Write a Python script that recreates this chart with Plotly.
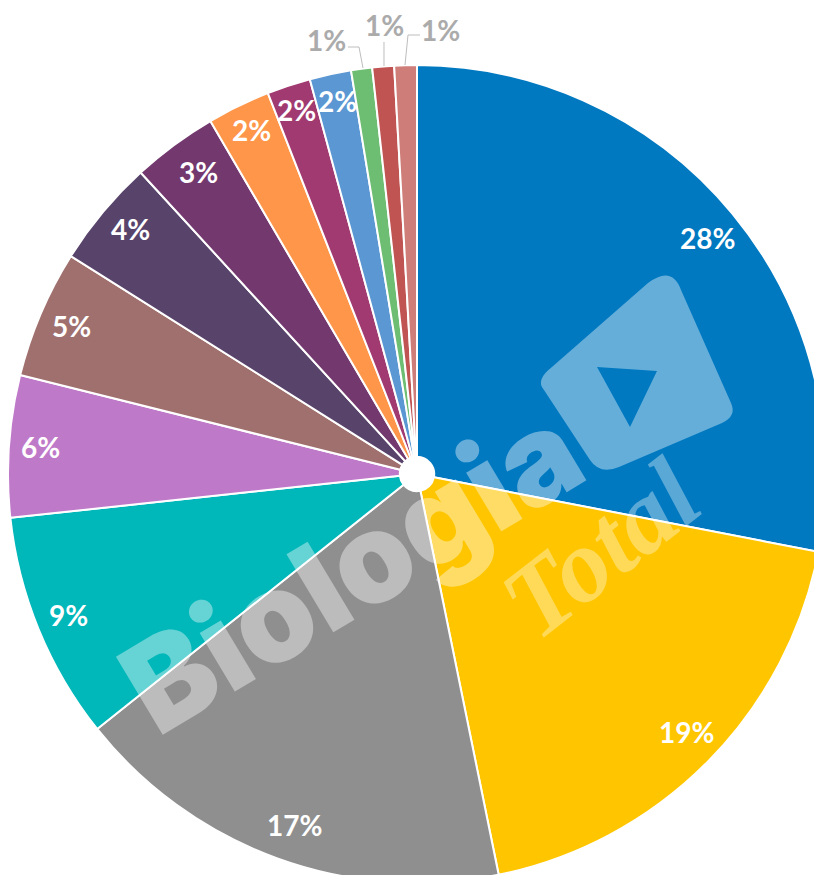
import math
import plotly.graph_objects as go

# Share of each category, clockwise from twelve o'clock
shares = [28.05, 18.75, 17.49, 9.0, 5.6, 5.05, 4.25, 3.38, 2.49, 1.72, 1.64, 0.83, 0.86, 0.89]
colors = ["#0079C1", "#FFC600", "#8F8F8F", "#00B7BA", "#BF79C9", "#A0706E", "#58436B",
          "#73396F", "#FF964A", "#A03A70", "#5B97D2", "#6DBD72", "#C05452", "#CE7D79"]
inner_label_radius = [375, 375, 375, 375, 378, 375, 377, 373, 382, 383, 382]
inner_label_nudge = [(1, 3), (3, -6), (6, -1), (-2, -2), (1, -1), (-1, -1), (3, -4), (3, -2), (1, 0), (0, 0), (1, 0)]
outer_label_pos = [(326, 40), (384, 25), (440, 30)]
leader_lines = [[(348, 47), (359, 47), (363, 68)],
                [(384, 42), (384, 66)],
                [(420, 35), (408, 35), (405, 65)]]

# Canvas slightly larger than the window so the pie runs off the right and bottom
W, H = 834, 948
CX, CY, R = 417, 474, 409
FONT = "Lato"


def px(x, y):
    return x / W, 1 - y / H


def path(points):
    out = []
    for cmd, *pts in points:
        coords = " ".join(f"{px(a, b)[0]:.5f},{px(a, b)[1]:.5f}" for a, b in pts)
        out.append(f"{cmd} {coords}")
    return " ".join(out)


fig = go.Figure(go.Pie(
    values=shares,
    sort=False,
    direction="clockwise",
    rotation=0,
    hole=0.042,
    textinfo="none",
    hoverinfo="percent",
    marker=dict(colors=colors, line=dict(color="white", width=2)),
    domain=dict(x=[(CX - R) / W, (CX + R) / W], y=[1 - (CY + R) / H, 1 - (CY - R) / H]),
    showlegend=False,
))

annotations = []
total = sum(shares)
running = 0.0
for i, s in enumerate(shares):
    mid = (running + s / 2) / total * 2 * math.pi
    running += s
    label = f"{round(s)}%"
    if i < len(inner_label_radius):
        r = inner_label_radius[i]
        dx, dy = inner_label_nudge[i]
        x, y = CX + r * math.sin(mid) + dx, CY - r * math.cos(mid) + dy
        color = "white"
    else:
        x, y = outer_label_pos[i - len(inner_label_radius)]
        color = "#ABABAB"
    xp, yp = px(x, y)
    annotations.append(dict(text=label, x=xp, y=yp, xref="paper", yref="paper",
                            showarrow=False, xanchor="center", yanchor="middle",
                            font=dict(family=FONT, size=28, color=color, weight=700)))

# Watermark wordmark
xp, yp = px(351, 568)
annotations.append(dict(text="Biologia", x=xp, y=yp, xref="paper", yref="paper", showarrow=False,
                        xanchor="center", yanchor="middle", textangle=-31,
                        font=dict(family="Inter", size=125, color="white", weight=900),
                        opacity=0.4))
xp, yp = px(600, 548)
annotations.append(dict(text="Total", x=xp, y=yp, xref="paper", yref="paper", showarrow=False,
                        xanchor="center", yanchor="middle", textangle=-38,
                        font=dict(family="Liberation Serif", size=104, color="white", style="italic", weight=700),
                        opacity=0.35))

shapes = []
for line in leader_lines:
    cmds = [("M", line[0])] + [("L", p) for p in line[1:]]
    shapes.append(dict(type="path", path=path(cmds), xref="paper", yref="paper",
                       line=dict(color="#BDBDBD", width=1), layer="above"))

# Play-button badge of the watermark, triangle knocked out
badge = path([("M", (552, 367)), ("L", (648, 283)), ("Q", (672, 265), (681, 290)),
              ("L", (731, 403)), ("Q", (737, 416), (722, 423)), ("L", (619, 467)),
              ("Q", (600, 475), (590, 460)), ("L", (544, 390)), ("Q", (535, 380), (552, 367))]) + " Z "
badge += path([("M", (597, 367)), ("L", (657, 371)), ("L", (630, 427))]) + " Z"
shapes.append(dict(type="path", path=badge, xref="paper", yref="paper", fillrule="evenodd",
                   fillcolor="rgba(255,255,255,0.4)", line=dict(width=0), layer="above"))

fig.update_layout(width=W, height=H, margin=dict(l=0, r=0, t=0, b=0),
                  paper_bgcolor="white", annotations=annotations, shapes=shapes)

fig.write_html("out.html", config=dict(displayModeBar=False),
               post_script="document.documentElement.style.overflow='hidden';document.body.style.overflow='hidden';")
